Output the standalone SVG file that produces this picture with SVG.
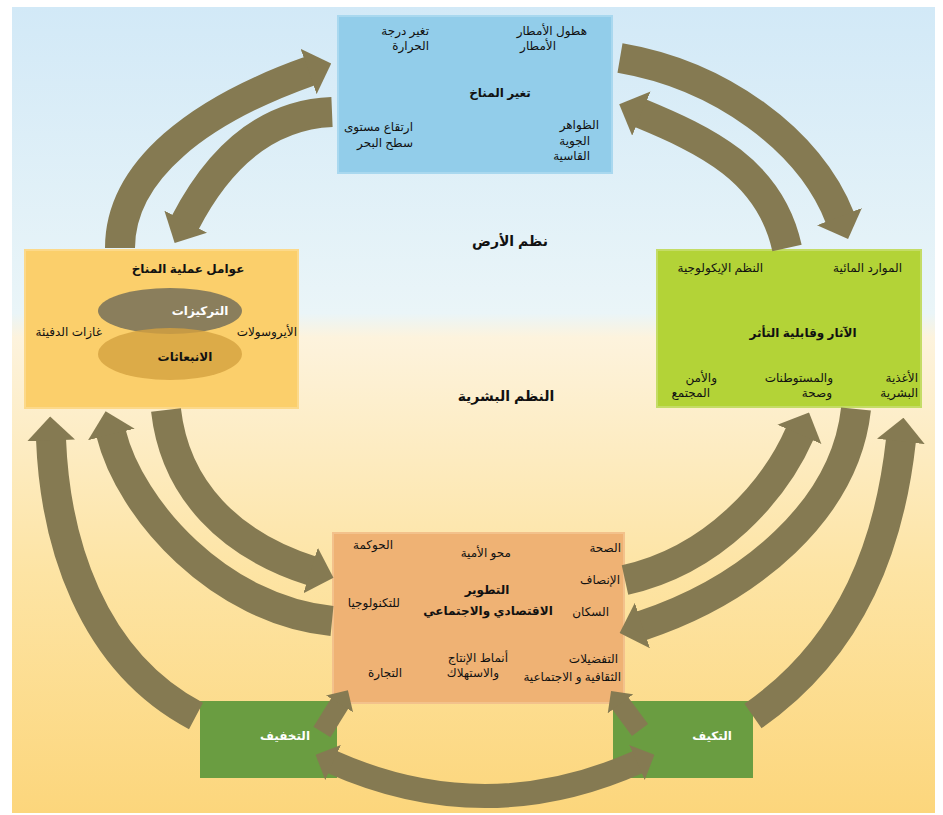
<svg xmlns="http://www.w3.org/2000/svg" width="943" height="815" viewBox="0 0 943 815">
<defs>
<linearGradient id="bg" x1="0" y1="0" x2="0" y2="1">
<stop offset="0" stop-color="#d2e9f7"/>
<stop offset="0.38" stop-color="#eaf5f8"/>
<stop offset="0.41" stop-color="#fdf3dd"/>
<stop offset="0.7" stop-color="#fde4a4"/>
<stop offset="1" stop-color="#fcd67c"/>
</linearGradient>
<marker id="ah" viewBox="0 0 8 16" refX="0.5" refY="8" markerWidth="0.8" markerHeight="1.6" markerUnits="strokeWidth" orient="auto-start-reverse">
<path d="M0,0 L8,8 L0,16 Z" fill="#857a52"/>
</marker>
<style>
text{font-family:"Liberation Sans","DejaVu Sans",sans-serif;font-size:12px;fill:#111}
.b{font-weight:bold}
.t{font-size:14px;font-weight:bold}
.e{text-anchor:end}
.m{text-anchor:middle}
.w{fill:#fff}
.arr{fill:none;stroke:#857a52;stroke-linecap:butt}
.a30{stroke-width:30}
.a24{stroke-width:24}
.a20{stroke-width:20}
</style>
</defs>
<rect x="12" y="7" width="923" height="806" fill="url(#bg)"/>
<text class="t m" x="510" y="246">نظم الأرض</text>
<text class="t m" x="506" y="401">النظم البشرية</text>

<g id="climate-change">
<rect x="338" y="16" width="274" height="157" fill="#92cdea" stroke="#a9d8ef" stroke-width="2"/>
<text class="e" x="429" y="35">تغير درجة</text>
<text class="e" x="429" y="50">الحرارة</text>
<text class="e" x="587" y="35">هطول الأمطار</text>
<text class="e" x="556" y="50">الأمطار</text>
<text class="b m" x="500" y="97">تغير المناخ</text>
<text class="e" x="413" y="131">ارتقاع مستوى</text>
<text class="e" x="413" y="147">سطح البحر</text>
<text class="e" x="599" y="129">الظواهر</text>
<text class="e" x="590" y="145">الجوية</text>
<text class="e" x="590" y="160">القاسية</text>
</g>

<g id="climate-process">
<rect x="25" y="250" width="273" height="158" fill="#fbcf6b" stroke="#fcd98a" stroke-width="2"/>
<text class="b m" x="188" y="273">عوامل عملية المناخ</text>
<ellipse cx="170" cy="311" rx="72" ry="23" fill="#8a7e5c"/>
<ellipse cx="170" cy="354" rx="72" ry="26" fill="#d4a140" opacity="0.8"/>
<text class="b m w" x="200" y="315">التركيزات</text>
<text class="b m" x="185" y="361">الانبعاثات</text>
<text class="e" x="102" y="336">غازات الدفيئة</text>
<text class="e" x="297" y="336">الأيروسولات</text>
</g>

<g id="impacts">
<rect x="657" y="250" width="264" height="157" fill="#b3d337" stroke="#c4dc66" stroke-width="2"/>
<text class="e" x="902" y="272">الموارد المائية</text>
<text class="e" x="763" y="272">النظم الإيكولوجية</text>
<text class="b m" x="803" y="337">الآثار وقابلية التأثر</text>
<text class="e" x="918" y="382">الأغذية</text>
<text class="e" x="918" y="397">البشرية</text>
<text class="e" x="833" y="382">والمستوطنات</text>
<text class="e" x="832" y="397">وصحة</text>
<text class="e" x="717" y="382">والأمن</text>
<text class="e" x="710" y="397">المجتمع</text>
</g>

<g id="development">
<rect x="333" y="533" width="291" height="170" fill="#efb274" stroke="#f3c28c" stroke-width="2"/>
<text class="e" x="393" y="549">الحوكمة</text>
<text class="e" x="511" y="557">محو الأمية</text>
<text class="e" x="621" y="552">الصحة</text>
<text class="e" x="620" y="584">الإنصاف</text>
<text class="b m" x="487" y="594">التطوير</text>
<text class="b m" x="488" y="615">الاقتصادي والاجتماعي</text>
<text class="e" x="400" y="607">للتكنولوجيا</text>
<text class="e" x="609" y="616">السكان</text>
<text class="e" x="508" y="662">أنماط الإنتاج</text>
<text class="e" x="499" y="677">والاستهلاك</text>
<text class="e" x="402" y="677">التجارة</text>
<text class="e" x="618" y="663">التفضيلات</text>
<text class="e" x="621" y="681">الثقافية و الاجتماعية</text>
</g>

<g id="mitigation">
<rect x="200" y="701" width="137" height="77" fill="#6a9d41"/>
<text class="b m w" x="285" y="740">التخفيف</text>
</g>

<g id="adaptation">
<rect x="613" y="701" width="140" height="77" fill="#6a9d41"/>
<text class="b m w" x="712" y="740">التكيف</text>
</g>

<g id="connectors">
<path class="arr a30" d="M120,248 C120,170 200,110 310,71" marker-end="url(#ah)"/>
<path class="arr a30" d="M332,112 C260,115 215,165 185,223" marker-end="url(#ah)"/>
<path class="arr a30" d="M620,58 C720,75 810,140 840,218" marker-end="url(#ah)"/>
<path class="arr a30" d="M787,248 C770,170 705,140 640,113" marker-end="url(#ah)"/>
<path class="arr a30" d="M196,716 C90,660 55,540 51,439" marker-end="url(#ah)"/>
<path class="arr a30" d="M332,621 C220,610 130,510 111,433" marker-end="url(#ah)"/>
<path class="arr a30" d="M166,410 C175,490 230,545 312,571" marker-end="url(#ah)"/>
<path class="arr a30" d="M625,580 C715,560 775,490 800,433" marker-end="url(#ah)"/>
<path class="arr a30" d="M856,409 C845,510 750,590 641,626" marker-end="url(#ah)"/>
<path class="arr a30" d="M753,716 C855,645 890,540 901,440" marker-end="url(#ah)"/>
<path class="arr a20" d="M322,732 L340,703" marker-end="url(#ah)"/>
<path class="arr a20" d="M640,730 L620,703" marker-end="url(#ah)"/>
<path class="arr a24" d="M332,762 Q485,830 638,762" marker-start="url(#ah)" marker-end="url(#ah)"/>
</g>
</svg>
